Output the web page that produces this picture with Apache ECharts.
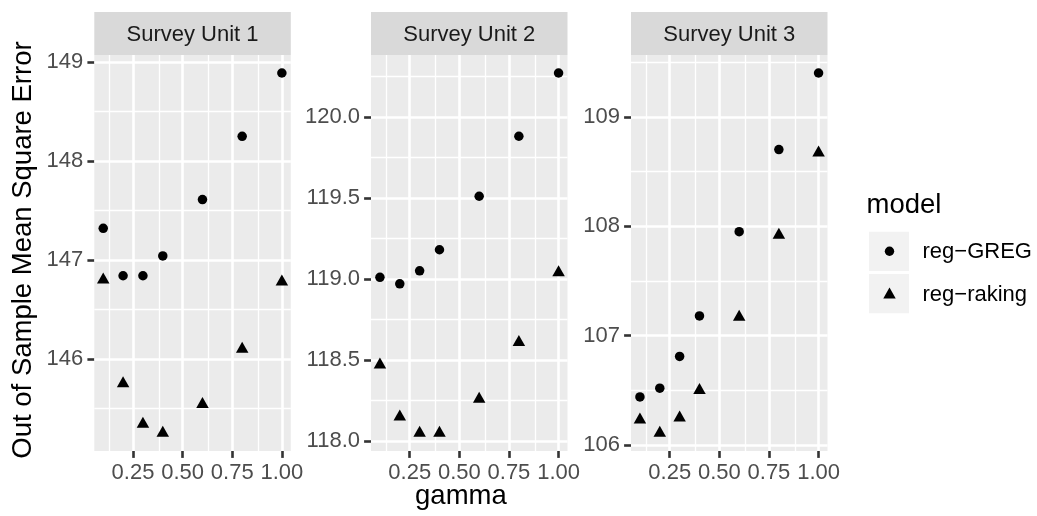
<!DOCTYPE html>
<html>
<head>
<meta charset="utf-8">
<script src="https://cdn.jsdelivr.net/npm/echarts@6/dist/echarts.min.js"></script>
<style>
html,body{margin:0;padding:0;background:#fff;}
#chart{width:1037px;height:516px;}
</style>
</head>
<body>
<div id="chart"></div>
<script>
// ---- data ----
const gamma = [0.1, 0.2, 0.3, 0.4, 0.6, 0.8, 1.0];
const panels = ['Survey Unit 1', 'Survey Unit 2', 'Survey Unit 3'];
const seriesNames = ['reg\u2212GREG', 'reg\u2212raking'];
const greg1 = [147.32, 146.84, 146.84, 147.04, 147.61, 148.25, 148.89];
const raking1 = [146.80, 145.75, 145.34, 145.25, 145.54, 146.10, 146.78];
const greg2 = [119.01, 118.97, 119.05, 119.18, 119.51, 119.88, 120.27];
const raking2 = [118.47, 118.15, 118.05, 118.05, 118.26, 118.61, 119.04];
const greg3 = [106.44, 106.52, 106.81, 107.18, 107.95, 108.70, 109.40];
const raking3 = [106.23, 106.11, 106.25, 106.50, 107.17, 107.92, 108.67];
const xTicks = [0.25, 0.50, 0.75, 1.00];
const xMinor = [0.125, 0.375, 0.625, 0.875];
const yTicks1 = [146, 147, 148, 149];
const yMinor1 = [145.5, 146.5, 147.5, 148.5];
const yTicks2 = [118.0, 118.5, 119.0, 119.5, 120.0];
const yMinor2 = [118.25, 118.75, 119.25, 119.75, 120.25];
const yTicks3 = [106, 107, 108, 109];
const yMinor3 = [106.5, 107.5, 108.5, 109.5];
const yDigits = [0, 1, 0];

// ---- layout / style ----
const FONT = "'Liberation Sans', Arial, Helvetica, sans-serif";
const panelLeft = [94.3, 371, 631];
const panelTop = 55, panelW = 196.5, panelH = 396;
const stripTop = 12, stripH = 43;
const MAJ = 2.6, MIN = 1.3;

const gregs = [greg1, greg2, greg3];
const rakings = [raking1, raking2, raking3];
const yTicks = [yTicks1, yTicks2, yTicks3];
const yMinors = [yMinor1, yMinor2, yMinor3];

function expand(vals) {
  const lo = Math.min.apply(null, vals), hi = Math.max.apply(null, vals);
  const d = (hi - lo) * 0.05;
  return [lo - d, hi + d];
}
const xr = expand(gamma);

const grids = [], xAxes = [], yAxes = [], series = [], graphics = [];
for (let i = 0; i < 3; i++) {
  grids.push({left: panelLeft[i], top: panelTop, width: panelW, height: panelH,
    show: true, backgroundColor: '#EBEBEB', borderWidth: 0, containLabel: false});
  xAxes.push({type: 'value', gridIndex: i, min: xr[0], max: xr[1],
    axisLine: {show: false}, splitLine: {show: false},
    axisTick: {show: true, customValues: xTicks, length: 6.9, lineStyle: {color: '#333333', width: MAJ}},
    axisLabel: {show: true, customValues: xTicks, margin: 11, color: '#4D4D4D', fontSize: 22,
      fontFamily: FONT, formatter: v => v.toFixed(2)}});
  const yr = expand(gregs[i].concat(rakings[i]));
  const dg = yDigits[i];
  yAxes.push({type: 'value', gridIndex: i, min: yr[0], max: yr[1],
    axisLine: {show: false}, splitLine: {show: false},
    axisTick: {show: true, customValues: yTicks[i], length: 6.9, lineStyle: {color: '#333333', width: MAJ}},
    axisLabel: {show: true, customValues: yTicks[i], margin: 11, color: '#4D4D4D', fontSize: 22,
      fontFamily: FONT, formatter: v => v.toFixed(dg)}});

  const mlData = [];
  xMinor.forEach(v => mlData.push({xAxis: v, lineStyle: {width: MIN}}));
  yMinors[i].forEach(v => mlData.push({yAxis: v, lineStyle: {width: MIN}}));
  xTicks.forEach(v => mlData.push({xAxis: v, lineStyle: {width: MAJ}}));
  yTicks[i].forEach(v => mlData.push({yAxis: v, lineStyle: {width: MAJ}}));

  series.push({type: 'scatter', name: seriesNames[0], xAxisIndex: i, yAxisIndex: i, z: 10,
    symbol: 'circle', symbolSize: 9.5, itemStyle: {color: '#000000', opacity: 1},
    data: gamma.map((g, j) => [g, gregs[i][j]]), silent: true});
  series.push({type: 'scatter', name: seriesNames[1], xAxisIndex: i, yAxisIndex: i, z: 10,
    symbol: 'triangle', symbolSize: [12.5, 11], symbolOffset: [0, -1.8], itemStyle: {color: '#000000', opacity: 1},
    data: gamma.map((g, j) => [g, rakings[i][j]]), silent: true,
    markLine: {silent: true, z: 1, symbol: ['none', 'none'], animation: false,
      label: {show: false}, emphasis: {disabled: true},
      lineStyle: {color: '#FFFFFF', type: 'solid'}, data: mlData}});

  graphics.push({type: 'rect', shape: {x: panelLeft[i], y: stripTop, width: panelW, height: stripH},
    style: {fill: '#D9D9D9'}, silent: true});
  graphics.push({type: 'text', x: panelLeft[i] + panelW / 2, y: stripTop + stripH / 2 + 1,
    style: {text: panels[i], font: '22px ' + FONT, fill: '#1A1A1A', align: 'center', verticalAlign: 'middle'}, silent: true});
}

// axis titles
graphics.push({type: 'text', x: (panelLeft[0] + panelLeft[2] + panelW) / 2, y: 496,
  style: {text: 'gamma', font: '27.5px ' + FONT, fill: '#000000', align: 'center', verticalAlign: 'middle'}, silent: true});
graphics.push({type: 'text', x: 23, y: 250, rotation: Math.PI / 2,
  style: {text: 'Out of Sample Mean Square Error', x: 0, y: 0, font: '27.5px ' + FONT, fill: '#000000',
    align: 'center', verticalAlign: 'middle'}, silent: true});

// legend
graphics.push({type: 'text', x: 866.5, y: 205,
  style: {text: 'model', font: '27.5px ' + FONT, fill: '#000000', align: 'left', verticalAlign: 'middle'}, silent: true});
const keyTops = [231.7, 274];
for (let k = 0; k < 2; k++) {
  graphics.push({type: 'rect', shape: {x: 869, y: keyTops[k], width: 40, height: 39.3},
    style: {fill: '#F2F2F2'}, silent: true});
  graphics.push({type: 'text', x: 922.5, y: keyTops[k] + 20.5,
    style: {text: seriesNames[k], font: '22px ' + FONT, fill: '#000000', align: 'left', verticalAlign: 'middle'}, silent: true});
}
graphics.push({type: 'circle', shape: {cx: 889.5, cy: 251.2, r: 4.7}, style: {fill: '#000000'}, silent: true});
graphics.push({type: 'polygon', shape: {points: [[883.25, 298.5], [895.75, 298.5], [889.5, 287.5]]},
  style: {fill: '#000000'}, silent: true});

const chart = echarts.init(document.getElementById('chart'), null, {renderer: 'canvas'});
chart.setOption({
  animation: false,
  backgroundColor: '#FFFFFF',
  grid: grids,
  xAxis: xAxes,
  yAxis: yAxes,
  series: series,
  graphic: graphics
});
</script>
</body>
</html>
